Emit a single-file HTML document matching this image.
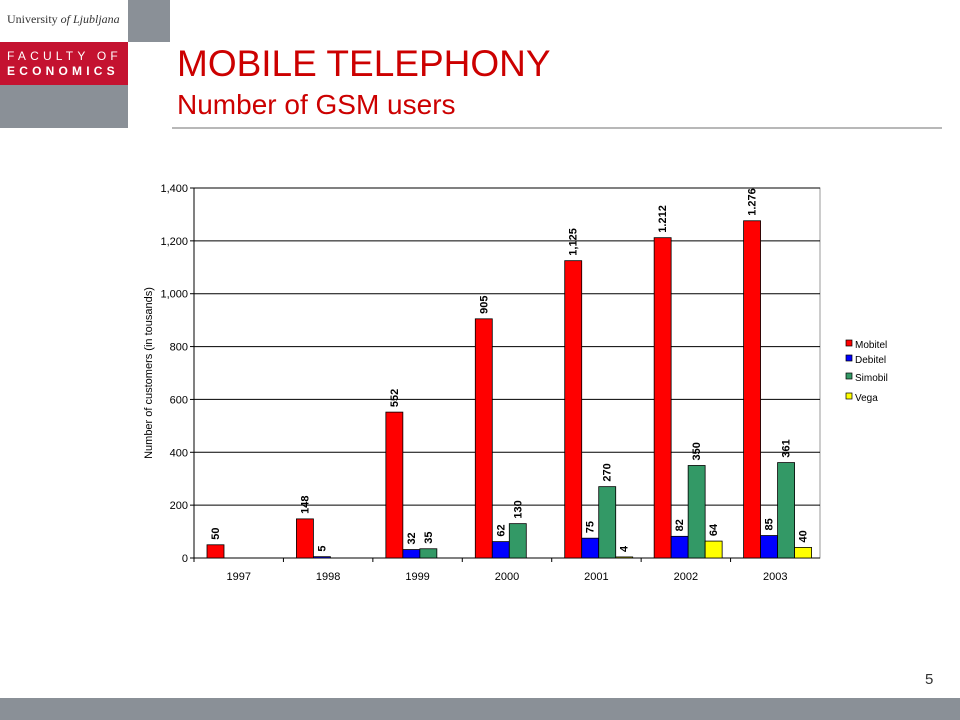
<!DOCTYPE html>
<html><head><meta charset="utf-8"><style>
body{margin:0;width:960px;height:720px;position:relative;background:#fff;font-family:"Liberation Sans",sans-serif;overflow:hidden}
.abs{position:absolute}
</style></head><body>
<div class="abs" style="left:0;top:0;width:170px;height:128px">
  <div class="abs" style="left:128px;top:0;width:42px;height:42px;background:#8a9097"></div>
  <div class="abs" style="left:7px;top:12px;font-family:'Liberation Serif',serif;font-size:12px;color:#333">University <i>of Ljubljana</i></div>
  <div class="abs" style="left:0;top:42px;width:128px;height:43px;background:#c41230"></div>
  <div class="abs" style="left:7px;top:49px;color:#fff;font-size:12px;letter-spacing:4.2px;line-height:15px">FACULTY OF<br><b>ECONOMICS</b></div>
  <div class="abs" style="left:0;top:85px;width:128px;height:43px;background:#8a9097"></div>
</div>
<div class="abs" style="left:177px;top:43px;font-size:37px;color:#cc0000;line-height:42px">MOBILE TELEPHONY</div>
<div class="abs" style="left:177px;top:88px;font-size:28px;color:#cc0000;line-height:34px">Number of GSM users</div>
<div class="abs" style="left:172px;top:127px;width:770px;height:2px;background:#b8b8b8"></div>
<div class="abs" style="left:925px;top:671px;font-size:15px;color:#333">5</div>
<div class="abs" style="left:0;top:698px;width:960px;height:22px;background:#8a9097"></div>
<svg class="abs" style="left:0;top:0" width="960" height="720" id="chart"></svg>
<script>
const years=["1997","1998","1999","2000","2001","2002","2003"];
const seriesNames=["Mobitel","Debitel","Simobil","Vega"];
const mobitel=[50,148,552,905,1125,1212,1276];
const debitel=[null,5,32,62,75,82,85];
const simobil=[null,null,35,130,270,350,361];
const vega=[null,null,null,null,4,64,40];
const valueLabels=[["50","148","552","905","1,125","1.212","1.276"],[null,"5","32","62","75","82","85"],[null,null,"35","130","270","350","361"],[null,null,null,null,"4","64","40"]];
const yTicks=[0,200,400,600,800,1000,1200,1400];
const yTickLabels=["0","200","400","600","800","1,000","1,200","1,400"];
const colors=["#ff0000","#0000ff","#339966","#ffff00"];
const X0=194,X1=820,Y0=558,Y1=188,YMAX=1400;
const ns="http://www.w3.org/2000/svg";
const svg=document.getElementById('chart');
function y(v){return Y0-(v/YMAX)*(Y0-Y1);}
const gw=(X1-X0)/years.length;
function bx(i,s){return X0+i*gw+13+s*17;}
function mk(t,a){const e=document.createElementNS(ns,t);for(const k in a)e.setAttribute(k,a[k]);svg.appendChild(e);return e;}
// plot border
let e=mk('rect',{x:X0,y:Y1,width:X1-X0,height:Y0-Y1,fill:'none',stroke:'#999'});


yTicks.forEach((t,i)=>{
  if(t>0){const l=mk('line',{x1:X0,x2:X1,y1:y(t),y2:y(t),stroke:'#000'});
  
  }
  const tk=mk('line',{x1:X0-4,x2:X0,y1:y(t),y2:y(t),stroke:'#000'});
  
  
  const tx=mk('text',{x:X0-6,y:y(t)+4,'text-anchor':'end','font-size':11,fill:'#000'});
  tx.textContent=yTickLabels[i];
  
  
});
mk('line',{x1:X0,x2:X0,y1:Y1,y2:Y0,stroke:'#000'});
mk('line',{x1:X0,x2:X1,y1:Y0,y2:Y0,stroke:'#000'});
years.forEach((yr,i)=>{
  const tk=mk('line',{x1:X0+i*gw,x2:X0+i*gw,y1:Y0,y2:Y0+4,stroke:'#000'});
  
  
  const t=mk('text',{x:X0+(i+0.5)*gw,y:Y0+22,'text-anchor':'middle','font-size':11});
  t.textContent=yr;
  
  
});
const yl=mk('text',{x:152,y:(Y0+Y1)/2,'text-anchor':'middle','font-size':11,transform:'rotate(-90 152 '+((Y0+Y1)/2)+')'});
yl.textContent="Number of customers (in tousands)";


[mobitel,debitel,simobil,vega].forEach((arr,s)=>{
  arr.forEach((v,i)=>{
    if(v==null)return;
    const r=mk('rect',{x:bx(i,s),y:y(v),width:17,height:Y0-y(v),fill:colors[s],stroke:'#000','stroke-width':0.8});
    
    
    const cx=bx(i,s)+12,cy=y(v)-5;
    const t=mk('text',{x:cx,y:cy,'font-size':11,'font-weight':'bold',transform:'rotate(-90 '+cx+' '+cy+')'});
    t.textContent=valueLabels[s][i];
    
    
  });
});
seriesNames.forEach((n,s)=>{
  const ly=[344,359,377,397][s];
  const r=mk('rect',{x:846,y:ly-4,width:6,height:6,fill:colors[s],stroke:'#000','stroke-width':0.7});
  
  
  const t=mk('text',{x:855,y:ly+4,'font-size':10});
  t.textContent=n;
  
  
});
</script>
</body></html>
